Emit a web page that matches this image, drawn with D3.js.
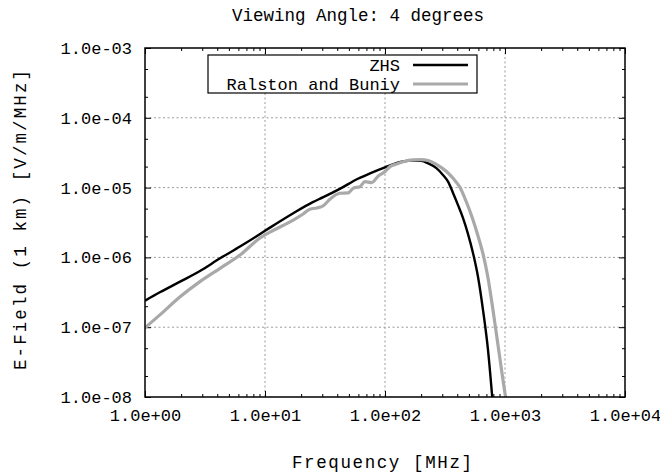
<!DOCTYPE html>
<html>
<head>
<meta charset="utf-8">
<script src="https://cdn.jsdelivr.net/npm/d3@7"></script>
<style>
  html, body { margin: 0; padding: 0; background: #fff; }
  svg { display: block; }
  text { font-family: "Liberation Mono", "Courier New", monospace; fill: #000; }
</style>
</head>
<body>
<svg id="chart" width="660" height="473"></svg>
<script>
// Spectrum of the radio pulse, E-field at 1 km, viewing angle 4 degrees
const titleText = "Viewing Angle: 4 degrees";
const xLabel = "Frequency [MHz]";
const yLabel = "E-Field (1 km) [V/m/MHz]";

const seriesNames = ["ZHS", "Ralston and Buniy"];

// ZHS spectrum: frequency [MHz] and field [V/m/MHz]
const zhsFreq = [1, 1.33, 1.96, 2.87, 4.22, 6.19, 9.1, 11, 17.2, 25, 30.6, 42, 60, 75, 100, 138, 171, 200, 229, 268, 304, 337, 369, 406, 447, 492, 541, 596, 656, 722, 779, 809];
const zhsField = [2.4e-7, 3.16e-7, 4.49e-7, 6.38e-7, 9.7e-7, 1.43e-6, 2.16e-6, 2.67e-6, 4.3e-6, 6.2e-6, 7.3e-6, 9.6e-6, 1.35e-5, 1.6e-5, 1.95e-5, 2.35e-5, 2.45e-5, 2.42e-5, 2.22e-5, 1.9e-5, 1.52e-5, 1.2e-5, 8.37e-6, 5.6e-6, 3.66e-6, 2.16e-6, 1.16e-6, 5.24e-7, 1.76e-7, 4.71e-8, 1.1e-8, 5e-9];

// Ralston and Buniy spectrum
const rbFreq = [1, 1.33, 1.96, 2.87, 4.22, 6.19, 9.1, 11, 17.2, 20.8, 23.7, 27, 30.6, 34.7, 42, 49.3, 54.4, 61.9, 68, 77.4, 88, 100, 110, 125, 142, 171, 200, 229, 268, 325, 369, 422, 473, 531, 596, 656, 722, 794, 874, 962, 1019];
const rbField = [9.8e-8, 1.5e-7, 2.73e-7, 4.5e-7, 6.97e-7, 1.08e-6, 1.9e-6, 2.3e-6, 3.43e-6, 4.19e-6, 4.9e-6, 5.1e-6, 5.5e-6, 6.8e-6, 8.3e-6, 8.4e-6, 9.8e-6, 1.03e-5, 1.22e-5, 1.18e-5, 1.47e-5, 1.7e-5, 2.0e-5, 2.18e-5, 2.35e-5, 2.5e-5, 2.52e-5, 2.45e-5, 2.15e-5, 1.7e-5, 1.36e-5, 1.0e-5, 6.43e-6, 3.8e-6, 2.03e-6, 1.12e-6, 5.07e-7, 1.76e-7, 5.56e-8, 1.75e-8, 9.1e-9];

const xTickValues = [1e0, 1e1, 1e2, 1e3, 1e4];
const xTickLabels = ["1.0e+00", "1.0e+01", "1.0e+02", "1.0e+03", "1.0e+04"];
const yTickValues = [1e-3, 1e-4, 1e-5, 1e-6, 1e-7, 1e-8];
const yTickLabels = ["1.0e-03", "1.0e-04", "1.0e-05", "1.0e-06", "1.0e-07", "1.0e-08"];

const W = 660, H = 473;
const margin = { left: 145, right: 35, top: 48, bottom: 76 };
const plotW = W - margin.left - margin.right;
const plotH = H - margin.top - margin.bottom;
const fontSize = "17px";

const svg = d3.select("#chart");

const x = d3.scaleLog().domain([1, 1e4]).range([0, plotW]);
const y = d3.scaleLog().domain([1e-8, 1e-3]).range([plotH, 0]);

const g = svg.append("g").attr("transform", `translate(${margin.left},${margin.top})`);

svg.append("defs").append("clipPath").attr("id", "plotclip")
  .append("rect").attr("x", 0).attr("y", 0).attr("width", plotW).attr("height", plotH);

// grid at every decade
const gridColor = "#9a9a9a";
g.append("g").selectAll("line.gx")
  .data(xTickValues.slice(1, -1)).join("line")
  .attr("x1", d => x(d)).attr("x2", d => x(d))
  .attr("y1", 0).attr("y2", plotH)
  .attr("stroke", gridColor).attr("stroke-width", 1).attr("stroke-dasharray", "2,2.5");
g.append("g").selectAll("line.gy")
  .data(yTickValues.slice(1, -1)).join("line")
  .attr("y1", d => y(d)).attr("y2", d => y(d))
  .attr("x1", 0).attr("x2", plotW)
  .attr("stroke", gridColor).attr("stroke-width", 1).attr("stroke-dasharray", "2,2.5");

// minor tick positions
const xMinor = [];
for (let e = 0; e < 4; e++) for (let m = 2; m <= 9; m++) xMinor.push(m * Math.pow(10, e));
const yMinor = [];
for (let e = -8; e < -3; e++) for (const m of [2, 5]) yMinor.push(m * Math.pow(10, e));

const majorLen = 6, minorLen = 3;

// axes: bottom / top / left / right, ticks pointing inward
const axBottom = d3.axisBottom(x).tickValues(xTickValues).tickFormat((d, i) => xTickLabels[i]).tickSizeInner(-majorLen).tickSizeOuter(0).tickPadding(12);
const axTop = d3.axisTop(x).tickValues(xTickValues).tickFormat("").tickSizeInner(-majorLen).tickSizeOuter(0);
const axLeft = d3.axisLeft(y).tickValues(yTickValues).tickFormat((d, i) => yTickLabels[i]).tickSizeInner(-majorLen).tickSizeOuter(0).tickPadding(13);
const axRight = d3.axisRight(y).tickValues(yTickValues).tickFormat("").tickSizeInner(-majorLen).tickSizeOuter(0);

const axMinorB = d3.axisBottom(x).tickValues(xMinor).tickFormat("").tickSizeInner(-minorLen).tickSizeOuter(0);
const axMinorT = d3.axisTop(x).tickValues(xMinor).tickFormat("").tickSizeInner(-minorLen).tickSizeOuter(0);
const axMinorL = d3.axisLeft(y).tickValues(yMinor).tickFormat("").tickSizeInner(-minorLen).tickSizeOuter(0);
const axMinorR = d3.axisRight(y).tickValues(yMinor).tickFormat("").tickSizeInner(-minorLen).tickSizeOuter(0);

function styleAxis(sel) {
  sel.select(".domain").remove();
  sel.selectAll(".tick line").attr("stroke", "#000").attr("stroke-width", 1);
  sel.selectAll(".tick text").style("font-size", fontSize).attr("fill", "#000");
}

g.append("g").attr("transform", `translate(0,${plotH})`).call(axBottom).call(styleAxis);
g.append("g").call(axTop).call(styleAxis);
g.append("g").call(axLeft).call(styleAxis);
g.append("g").attr("transform", `translate(${plotW},0)`).call(axRight).call(styleAxis);
g.append("g").attr("transform", `translate(0,${plotH})`).call(axMinorB).call(styleAxis);
g.append("g").call(axMinorT).call(styleAxis);
g.append("g").call(axMinorL).call(styleAxis);
g.append("g").attr("transform", `translate(${plotW},0)`).call(axMinorR).call(styleAxis);

// curves
const line = d3.line().x(d => x(d[0])).y(d => y(d[1])).curve(d3.curveMonotoneX);
const zhs = zhsFreq.map((f, i) => [f, zhsField[i]]);
const rb = rbFreq.map((f, i) => [f, rbField[i]]);

const curves = g.append("g").attr("clip-path", "url(#plotclip)");
curves.append("path").datum(zhs).attr("d", line)
  .attr("fill", "none").attr("stroke", "#000").attr("stroke-width", 2.4).attr("stroke-linejoin", "round");
curves.append("path").datum(rb).attr("d", line)
  .attr("fill", "none").attr("stroke", "#a9a9a9").attr("stroke-width", 3.2).attr("stroke-linejoin", "round");

// frame
g.append("rect").attr("x", 0).attr("y", 0).attr("width", plotW).attr("height", plotH)
  .attr("fill", "none").attr("stroke", "#000").attr("stroke-width", 1.5);

// legend
const legend = svg.append("g");
legend.append("rect").attr("x", 208).attr("y", 55).attr("width", 269).attr("height", 38)
  .attr("fill", "#fff").attr("stroke", "#000").attr("stroke-width", 1.2);
const legColors = ["#000", "#a9a9a9"];
const legWidths = [2.4, 3.2];
seriesNames.forEach((name, i) => {
  const yy = 65 + i * 19;
  legend.append("text").attr("x", 400).attr("y", yy + 6).attr("text-anchor", "end")
    .style("font-size", fontSize).text(name);
  legend.append("line").attr("x1", 413).attr("x2", 468).attr("y1", yy).attr("y2", yy)
    .attr("stroke", legColors[i]).attr("stroke-width", legWidths[i]);
});

// titles
svg.append("text").attr("x", 358).attr("y", 21).attr("text-anchor", "middle")
  .style("font-size", "17.5px").text(titleText);
svg.append("text").attr("x", 382).attr("y", 468).attr("text-anchor", "middle")
  .style("font-size", "17.5px").attr("textLength", 180).attr("lengthAdjust", "spacing").text(xLabel);
svg.append("text").attr("transform", "translate(26,220) rotate(-90)").attr("text-anchor", "middle")
  .style("font-size", "17.5px").attr("textLength", 300).attr("lengthAdjust", "spacing").text(yLabel);
</script>
</body>
</html>
